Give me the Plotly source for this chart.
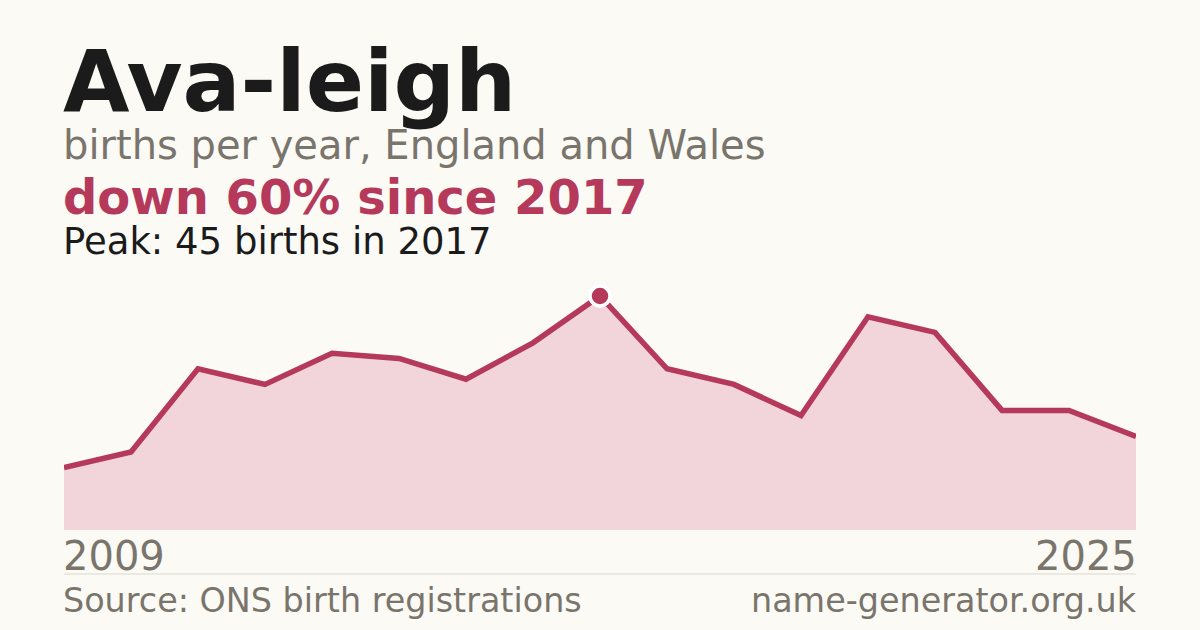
import plotly.graph_objects as go

years = list(range(2009, 2026))
births = [12, 15, 31, 28, 34, 33, 29, 36, 45, 31, 28, 22, 41, 38, 23, 23, 18]

name = "Ava-leigh"
subtitle = "births per year, England and Wales"
change_text = "down 60% since 2017"
peak_text = "Peak: 45 births in 2017"
source_text = "Source: ONS birth registrations"
site_text = "name-generator.org.uk"

bg = "#fbfaf5"
red = "#b5395a"
fill = "#f2d5da"
grey = "#7a756c"
dark = "#1b1b1b"
font = "DejaVu Sans"

peak_i = births.index(max(births))

# plot area: x 64..1136, y 270..530 (paper coords)
def py(p):
    return (530 - p) / 260

fig = go.Figure()
fig.add_trace(go.Scatter(x=years, y=births, mode="lines", fill="tozeroy",
                         fillcolor=fill, line=dict(color=red, width=5.5),
                         hoverinfo="skip"))
fig.add_trace(go.Scatter(x=[years[peak_i]], y=[births[peak_i]], mode="markers",
                         marker=dict(color=red, size=20, line=dict(color="white", width=3.5)),
                         hoverinfo="skip"))

def txt(s, x, y, size, color, bold=False, anchor="left", xref="paper"):
    fig.add_annotation(text="<b>%s</b>" % s if bold else s, x=x, y=py(y), xref=xref, yref="paper",
                       xanchor=anchor, yanchor="middle", showarrow=False,
                       xshift=-3 if anchor == "left" else 3,
                       font=dict(family=font, size=size, color=color))

txt(name, 0, 81, 86, dark, bold=True)
txt(subtitle, 0, 145, 40, grey)
txt(change_text, 0, 197, 48, red, bold=True)
txt(peak_text, 0, 241, 37, dark)
txt(str(years[0]), years[0], 556, 40, grey, xref="x")
txt(str(years[-1]), years[-1], 556, 40, grey, anchor="right", xref="x")
txt(source_text, 0, 600, 33.4, grey)
txt(site_text, 1, 600, 33.4, grey, anchor="right")

fig.add_shape(type="line", xref="paper", yref="paper", x0=0, x1=1, y0=py(574), y1=py(574),
              line=dict(color="#dcd9d0", width=1))

fig.update_layout(width=1200, height=630, paper_bgcolor=bg, plot_bgcolor=bg,
                  margin=dict(l=64, r=64, t=270, b=100), showlegend=False,
                  xaxis=dict(range=[years[0], years[-1]], visible=False, fixedrange=True),
                  yaxis=dict(range=[0, 50], visible=False, fixedrange=True))
fig.write_html("out.html", config={"displayModeBar": False},
               post_script="document.body.style.margin='0';document.body.style.background='%s';" % bg)
